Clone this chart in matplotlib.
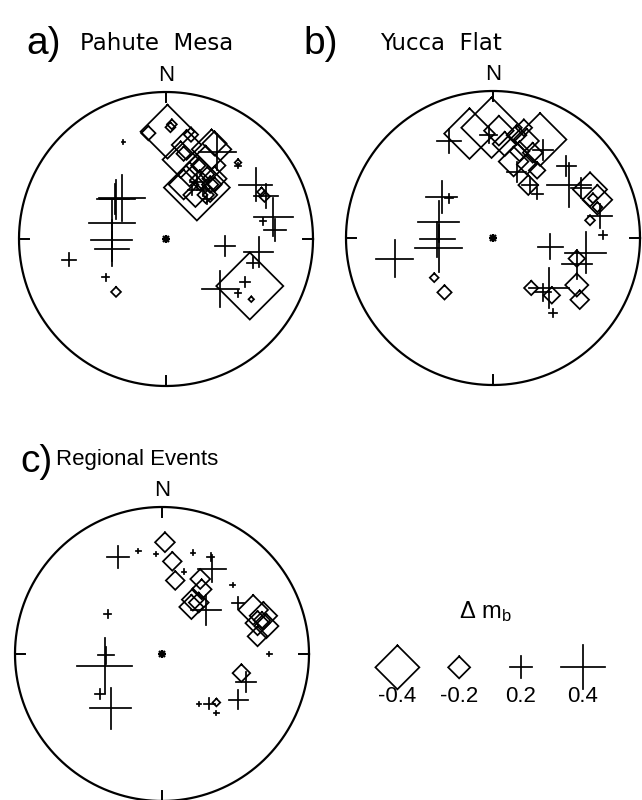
import numpy as np
import matplotlib
matplotlib.use("Agg")
import matplotlib.pyplot as plt

plt.rcParams['font.family'] = ['Liberation Sans', 'DejaVu Sans']

# Positions on the projection net (x = east, y = north, unit radius) and
# station magnitude residuals (delta mb). Negative -> diamond, positive -> cross.

# a) Pahute Mesa
pm_x = [-0.30, -0.34, -0.35, -0.37, -0.37, -0.37, -0.66, -0.41, 0.40, 0.63, 0.37,
        0.54, 0.49, 0.59, 0.74, 0.73, 0.66, 0.61, 0.35, 0.68, 0.49, -0.29,
        0.21, 0.25, 0.18, 0.28,
        0.01, 0.21, -0.12, 0.03, 0.14, 0.10, 0.27, 0.33, 0.31, 0.16, 0.23,
        0.30, 0.20, 0.27, 0.12, 0.33, 0.49, 0.57, 0.58, -0.34, 0.67, 0.65,
        0.04, 0.17, 0.12, 0.22, 0.28, 0.33, 0.30]
pm_y = [0.28, 0.27, 0.27, 0.11, -0.01, -0.07, -0.14, -0.26, -0.05, -0.09, -0.34,
        -0.29, -0.37, -0.16, 0.06, 0.15, 0.12, 0.37, 0.59, 0.29, 0.50, 0.66,
        0.39, 0.33, 0.33, 0.27,
        0.73, 0.35, 0.72, 0.76, 0.64, 0.54, 0.50, 0.65, 0.61, 0.44, 0.40,
        0.37, 0.30, 0.30, 0.37, 0.41, 0.52, -0.32, -0.41, -0.36, 0.29, 0.32,
        0.78, 0.71, 0.58, 0.50, 0.44, 0.37, 0.30]
pm_dmb = [0.42, 0.35, 0.27, 0.42, 0.37, 0.31, 0.12, 0.06, 0.18, 0.27, 0.33,
          0.09, 0.06, 0.10, 0.20, 0.35, 0.06, 0.30, 0.33, 0.22, 0.05, 0.03,
          0.12, 0.10, 0.08, 0.08,
          -0.49, -0.60, -0.13, -0.09, -0.27, -0.33, -0.36, -0.22, -0.36, -0.22, -0.18,
          -0.15, -0.22, -0.15, -0.27, -0.22, -0.06, -0.61, -0.05, -0.09, -0.10, -0.08,
          -0.09, -0.13, -0.13, -0.13, -0.13, -0.13, -0.13]

# b) Yucca Flat
yf_x = [-0.35, -0.30, -0.37, -0.38, -0.37, -0.67, 0.39, 0.63, 0.57, 0.38, 0.34,
        0.41, 0.50, 0.52, 0.60, 0.73, 0.75, -0.30, -0.03, 0.16, 0.34, 0.30, 0.25,
        -0.40, -0.33, 0.57, 0.57, 0.59, 0.26, 0.40, 0.66, 0.71, 0.68, 0.71, 0.66,
        -0.16, -0.01, 0.32, 0.04, 0.08, 0.16, 0.21, 0.23, 0.18, 0.27, 0.23, 0.30,
        0.24, 0.14]
yf_y = [0.28, 0.27, 0.11, -0.01, -0.07, -0.14, -0.06, -0.10, -0.18, -0.34, -0.37,
        -0.51, 0.49, 0.36, 0.34, 0.15, 0.02, 0.66, 0.70, 0.45, 0.60, 0.30, 0.36,
        -0.27, -0.37, -0.14, -0.32, -0.42, -0.34, -0.39, 0.33, 0.26, 0.27, 0.21, 0.12,
        0.71, 0.75, 0.67, 0.73, 0.64, 0.70, 0.75, 0.66, 0.59, 0.58, 0.50, 0.46,
        0.36, 0.52]
yf_dmb = [0.29, 0.08, 0.37, 0.32, 0.43, 0.33, 0.23, 0.37, 0.27, 0.37, 0.15,
          0.07, 0.18, 0.40, 0.18, 0.22, 0.07, 0.22, 0.15, 0.18, 0.18, 0.10, 0.15,
          -0.08, -0.13, -0.15, -0.21, -0.17, -0.13, -0.15, -0.31, -0.27, -0.09, -0.09, -0.09,
          -0.46, -0.55, -0.48, -0.27, -0.22, -0.18, -0.15, -0.22, -0.18, -0.18, -0.18, -0.15,
          -0.18, -0.27]

# c) Regional events
re_x = [-0.30, -0.16, -0.04, 0.21, 0.15, 0.48, 0.73, 0.25, 0.37, 0.34, 0.33,
        0.30, 0.52, 0.57, 0.52, 0.32, -0.37, -0.38, -0.39, -0.42, -0.35,
        0.02, 0.07, 0.09, 0.26, 0.27, 0.21, 0.20, 0.25, 0.62, 0.69, 0.65,
        0.71, 0.65, 0.68, 0.54, 0.37]
re_y = [0.66, 0.70, 0.68, 0.69, 0.56, 0.47, 0.00, -0.34, -0.40, 0.58, 0.66,
        0.30, 0.35, -0.19, -0.31, -0.34, 0.27, -0.01, -0.08, -0.27, -0.37,
        0.76, 0.63, 0.50, 0.51, 0.44, 0.37, 0.32, 0.35, 0.30, 0.26, 0.21,
        0.19, 0.12, 0.23, -0.13, -0.33]
re_dmb = [0.20, 0.04, 0.04, 0.04, 0.04, 0.04, 0.04, 0.04, 0.04, 0.25, 0.07,
          0.27, 0.11, 0.18, 0.17, 0.10, 0.07, 0.15, 0.50, 0.09, 0.37,
          -0.18, -0.17, -0.17, -0.18, -0.18, -0.20, -0.22, -0.18, -0.27, -0.25, -0.22,
          -0.22, -0.18, -0.15, -0.16, -0.07]

# Legend
legend_dmb = [-0.4, -0.2, 0.2, 0.4]
legend_labels = ['-0.4', '-0.2', '0.2', '0.4']

SCALE = 0.374   # half-size of a symbol, in net radii per unit delta mb
LIM = 1.1
W, H = 642, 800
R_PX = 147
LW = 1.25


def draw_symbols(ax, xs, ys, dmbs, lw=LW):
    for x, y, d in zip(xs, ys, dmbs):
        h = SCALE * abs(d)
        if d < 0:
            ax.plot([x, x + h, x, x - h, x], [y + h, y, y - h, y, y + h],
                    color='black', lw=lw, solid_joinstyle='miter')
        else:
            ax.plot([x - h, x + h], [y, y], color='black', lw=lw)
            ax.plot([x, x], [y - h, y + h], color='black', lw=lw)


def draw_net(ax):
    t = np.linspace(0, 2 * np.pi, 500)
    ax.plot(np.cos(t), np.sin(t), color='black', lw=1.6)
    tick = 0.065
    for ang in np.deg2rad([0, 90, 180, 270]):
        c, s = np.cos(ang), np.sin(ang)
        ax.plot([c, (1 - tick) * c], [s, (1 - tick) * s], color='black', lw=1.4)
    ax.plot([0], [0], marker='+', ms=6, mew=1.6, color='black')
    ax.plot([0], [0], marker='x', ms=5, mew=1.6, color='black')
    ax.text(0, 1.04, 'N', ha='center', va='bottom', fontsize=16)


def make_axes(fig, cx, cy):
    size = 2 * LIM * R_PX
    left = (cx - size / 2) / W
    bottom = (H - cy - size / 2) / H
    ax = fig.add_axes([left, bottom, size / W, size / H])
    ax.set_xlim(-LIM, LIM)
    ax.set_ylim(-LIM, LIM)
    ax.set_aspect('equal')
    ax.axis('off')
    return ax


fig = plt.figure(figsize=(W / 100, H / 100), dpi=100)

ax_a = make_axes(fig, 166, 239)
draw_net(ax_a)
draw_symbols(ax_a, pm_x, pm_y, pm_dmb)

ax_b = make_axes(fig, 493, 238)
draw_net(ax_b)
draw_symbols(ax_b, yf_x, yf_y, yf_dmb)

ax_c = make_axes(fig, 162, 654)
draw_net(ax_c)
draw_symbols(ax_c, re_x, re_y, re_dmb)

ax_l = make_axes(fig, 490, 660)
leg_x = [-0.63, -0.21, 0.21, 0.63]
draw_symbols(ax_l, leg_x, [-0.05] * 4, legend_dmb)
for x, lab in zip(leg_x, legend_labels):
    ax_l.text(x, -0.25, lab, ha='center', va='center', fontsize=16)
ax_l.text(-0.03, 0.33, 'Δ $\\mathregular{m_b}$', ha='center', va='center', fontsize=17)


def fig_text(px, py, s, **kw):
    fig.text(px / W, 1 - py / H, s, **kw)


title_font = ['DejaVu Sans']
fig_text(26, 44, 'a)', fontsize=28, va='center', ha='left')
fig_text(80, 44, 'Pahute  Mesa', fontsize=16.5, va='center', ha='left', family=title_font)
fig_text(303, 44, 'b)', fontsize=28, va='center', ha='left')
fig_text(380, 44, 'Yucca  Flat', fontsize=16.5, va='center', ha='left', family=title_font)
fig_text(20, 462, 'c)', fontsize=28, va='center', ha='left')
fig_text(56, 460, 'Regional Events', fontsize=16, va='center', ha='left')

fig.savefig('out.png', dpi=100)
